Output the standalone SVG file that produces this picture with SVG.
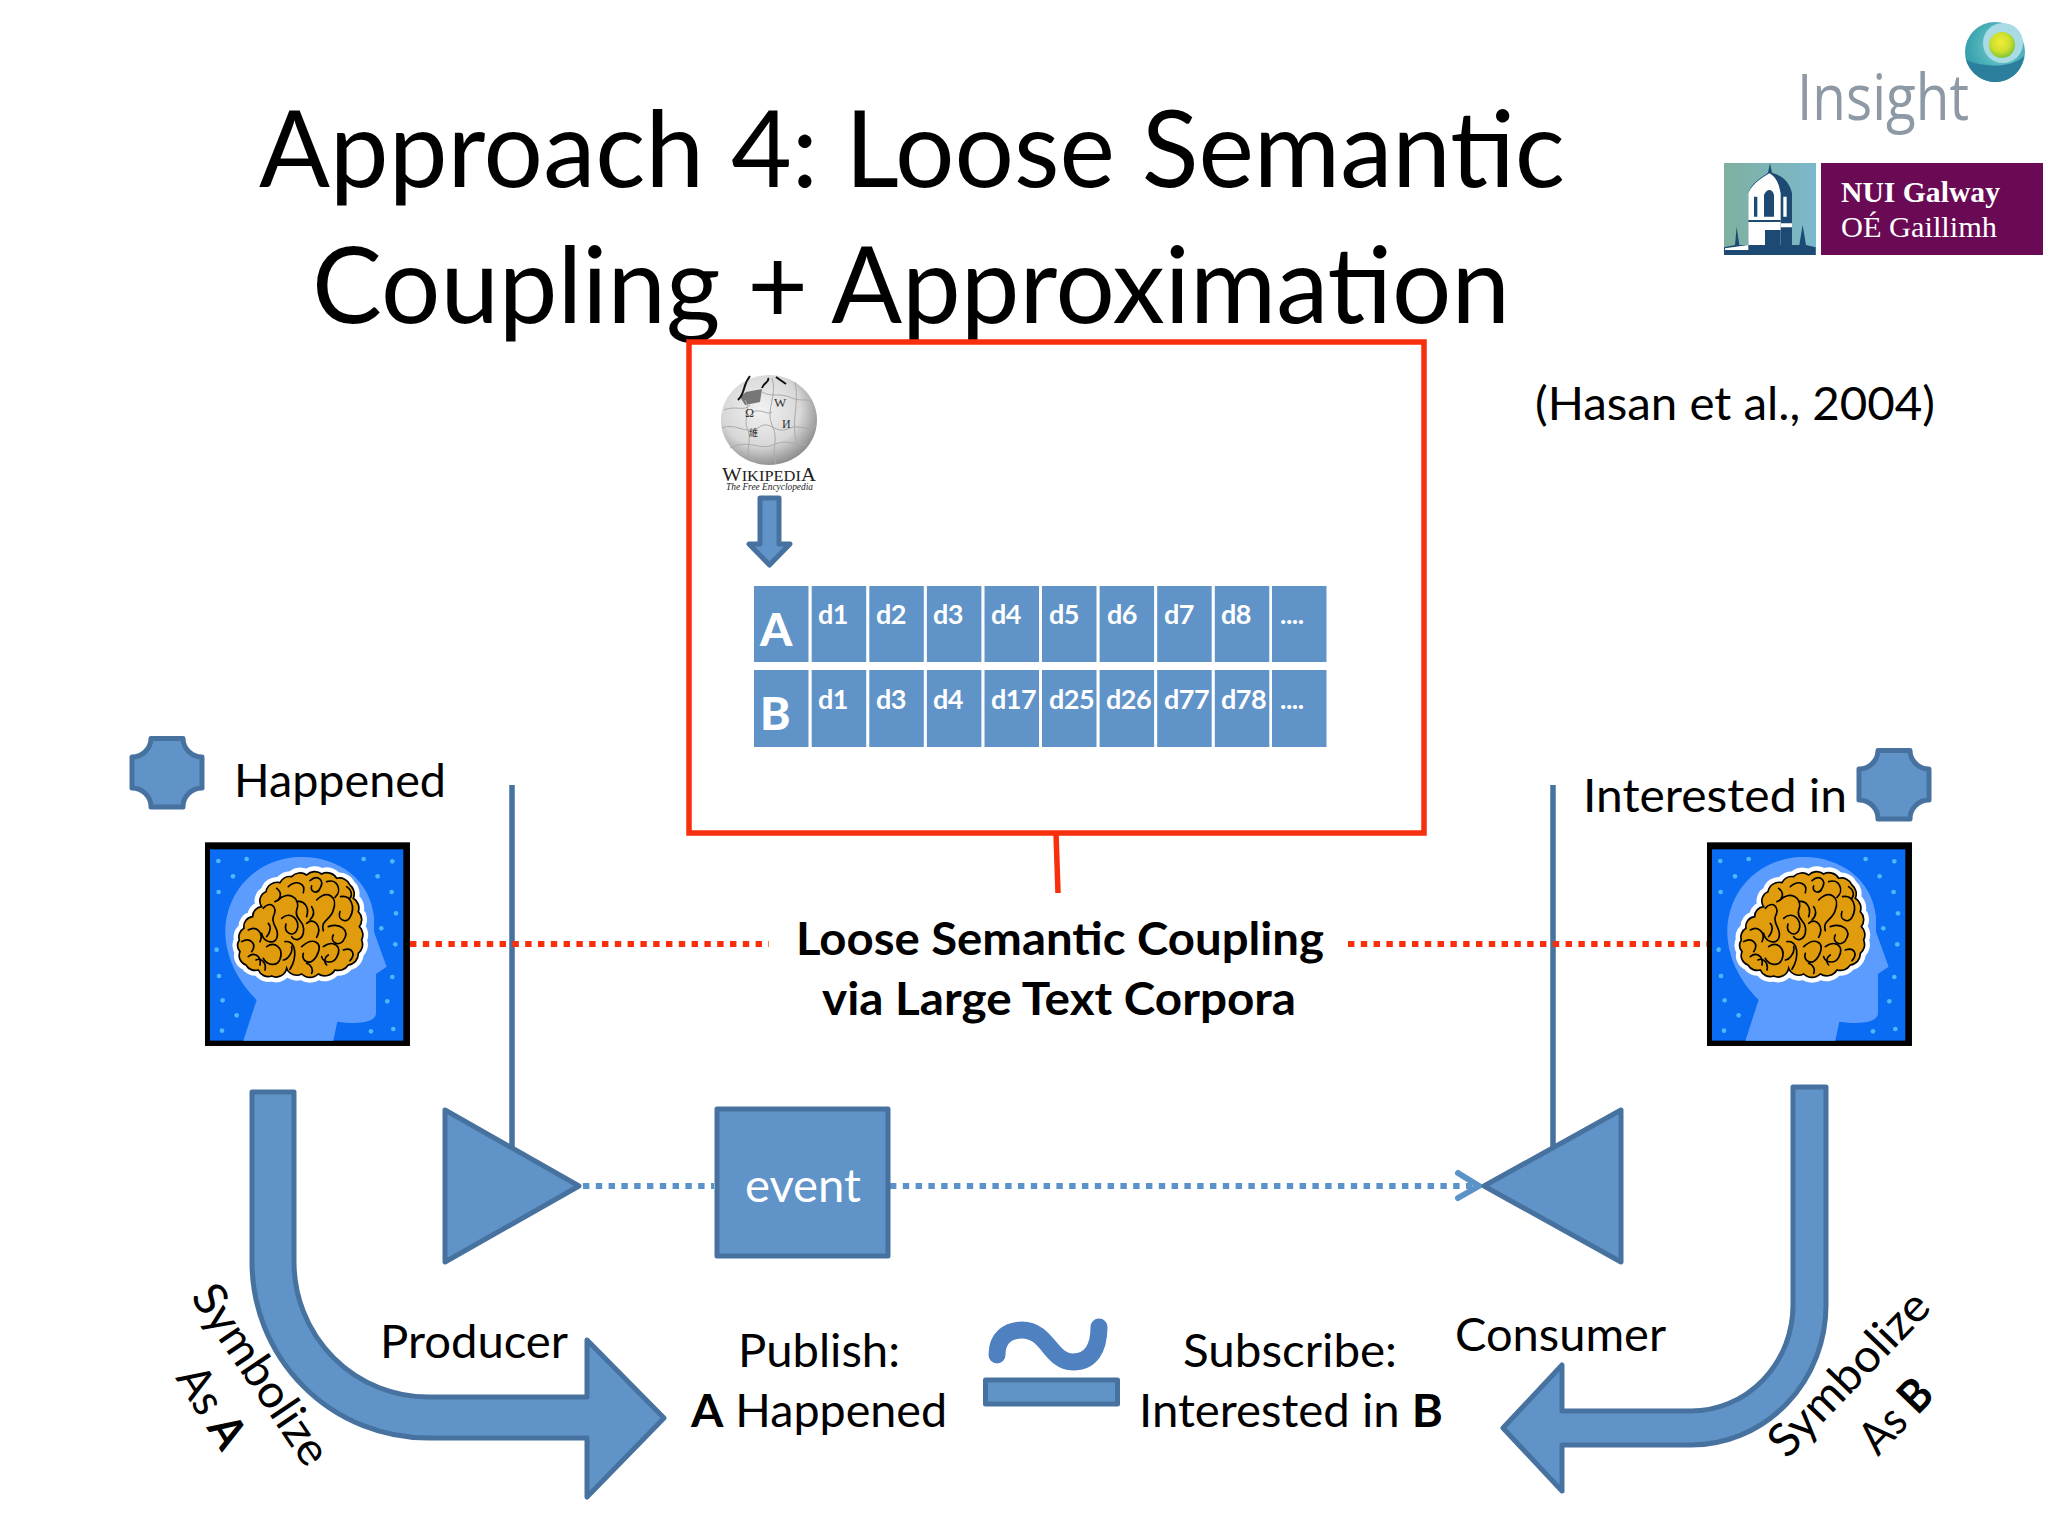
<svg xmlns="http://www.w3.org/2000/svg" width="2048" height="1536" viewBox="0 0 2048 1536">
<style>
text{font-family:"Lato","Carlito","Liberation Sans",sans-serif;fill:#000}
.t{font-size:106px}
.m{font-size:46px}
.b{font-weight:700}
.cell{fill:#6094c8}
.ct{font-size:27px;font-weight:700;fill:#fff;letter-spacing:-.5px}
.hd{font-size:46px;font-weight:900;fill:#fff}
.sh{fill:#6094c8;stroke:#47729f;stroke-width:5;stroke-linejoin:round}
.red{stroke:#f72f0c;fill:none}
.ser{font-family:"Liberation Serif",serif}
.gl{font-family:"Liberation Serif",serif;fill:#333}
</style>
<defs>
<radialGradient id="gl" cx="0.42" cy="0.38" r="0.68"><stop offset="0" stop-color="#f2f2f2"/><stop offset="0.6" stop-color="#d8d8d8"/><stop offset="1" stop-color="#808080"/></radialGradient>
<radialGradient id="ball" cx="0.6" cy="0.4" r="0.65"><stop offset="0" stop-color="#8ed6e2"/><stop offset="0.55" stop-color="#4fb3ba"/><stop offset="1" stop-color="#2f9aa8"/></radialGradient>
<radialGradient id="lime" cx="0.45" cy="0.4" r="0.6"><stop offset="0" stop-color="#f4ea3a"/><stop offset="0.6" stop-color="#cde02c"/><stop offset="1" stop-color="#7fc43a"/></radialGradient>
<linearGradient id="sky" x1="0" y1="0" x2="1" y2="0"><stop offset="0" stop-color="#7fb09f"/><stop offset="1" stop-color="#7ab8cc"/></linearGradient>
<path id="plaque" d="M151,738.500H183A19,19 0 0 0 202,757V788A19,19 0 0 0 183,807H151A19,19 0 0 0 132,788V757A19,19 0 0 0 151,738.500Z"/>
<path id="brainshape" d="M358,660A30,30 0 0 1 372,625A30,30 0 0 1 398,590A30,30 0 0 1 425,560A30,30 0 0 1 438,515A34,34 0 0 1 480,488A34,34 0 0 1 515,470A34,34 0 0 1 560,465A34,34 0 0 1 605,462A34,34 0 0 1 650,475A34,34 0 0 1 690,495A34,34 0 0 1 700,535A34,34 0 0 1 715,575A34,34 0 0 1 718,620A34,34 0 0 1 725,660A34,34 0 0 1 715,700A34,34 0 0 1 685,735A36,36 0 0 1 645,750A36,36 0 0 1 595,762A36,36 0 0 1 545,762A32,32 0 0 1 500,745A32,32 0 0 1 455,768A32,32 0 0 1 415,750A32,32 0 0 1 378,735A30,30 0 0 1 360,695A30,30 0 0 1 358,660Z"/>
<g id="headicon">
<rect x="255" y="367" width="615" height="611" fill="#000"/>
<rect x="270" y="388" width="580" height="574" fill="#0a6cf2"/>
<path d="M370,962L410,840C360,790 318,720 316,640C314,540 380,430 520,412C640,400 750,470 762,590L762,635L800,740L768,762V880C768,905 720,915 652,905L640,962Z" fill="#5c9cff"/>
<g fill="#4db8ff">
<circle cx="295" cy="423" r="7"/><circle cx="380" cy="417" r="7"/><circle cx="339" cy="469" r="7"/><circle cx="296" cy="516" r="7"/><circle cx="290" cy="689" r="7"/><circle cx="297" cy="768" r="7"/><circle cx="308" cy="841" r="7"/><circle cx="350" cy="886" r="7"/><circle cx="306" cy="932" r="7"/><circle cx="731" cy="417" r="7"/><circle cx="817" cy="424" r="7"/><circle cx="773" cy="469" r="7"/><circle cx="815" cy="516" r="7"/><circle cx="828" cy="580" r="7"/><circle cx="784" cy="625" r="7"/><circle cx="826" cy="673" r="7"/><circle cx="817" cy="771" r="7"/><circle cx="802" cy="844" r="7"/><circle cx="820" cy="927" r="7"/><circle cx="753" cy="934" r="7"/>
</g>
<use href="#brainshape" fill="#fff" stroke="#fff" stroke-width="32" stroke-linejoin="round"/>
<use href="#brainshape" fill="#e09c0c" stroke="#000" stroke-width="5"/>
<g fill="none" stroke="#000" stroke-width="5" stroke-linecap="round">
<path d="M385,630C410,615 432,640 420,665M365,665C390,650 412,672 395,695M385,710C402,695 425,708 420,735"/>
<path d="M430,565C450,540 475,560 460,590C452,615 482,628 470,655C460,675 430,665 425,640"/>
<path d="M475,540C500,512 545,530 530,570C522,600 558,602 550,640C545,660 525,665 515,650"/>
<path d="M505,500C530,478 558,490 550,518M570,482C592,462 615,480 600,505C592,525 568,515 575,498"/>
<path d="M620,485C652,474 668,512 645,532M590,540C622,508 655,530 640,570C632,602 600,600 610,632"/>
<path d="M662,530C692,524 708,560 690,592C680,612 650,600 660,575M680,500C695,510 698,525 690,535"/>
<path d="M485,595C510,570 545,600 530,632C520,652 490,640 498,612"/>
<path d="M560,610C582,590 608,620 590,652M625,620C660,608 692,630 670,662C655,682 628,665 640,645"/>
<path d="M440,680C465,662 492,685 480,718C470,742 440,735 430,715M408,720C425,712 440,730 435,750"/>
<path d="M495,665C530,660 532,712 510,748M545,680C578,650 612,665 590,708C570,742 542,722 550,700"/>
<path d="M610,680C642,658 668,680 650,712C640,732 610,730 605,710M670,690C697,680 708,702 690,722"/>
<path d="M470,505C490,520 480,540 465,545M530,545C550,540 570,560 560,590M575,560C585,575 580,590 570,600M445,610C455,620 450,640 440,650M515,680C520,700 500,720 490,720M620,735C610,725 615,710 625,705M560,730C575,735 580,750 575,760"/>
</g>
</g>
</defs>
<rect width="2048" height="1536" fill="#fff"/>

<g id="connectors">
<path d="M512,785V1147M1553,785V1147" fill="none" stroke="#47729f" stroke-width="5.500"/>
<path d="M410,944H769M1348,944H1707" class="red" stroke-width="6" stroke-dasharray="6.400 6.400"/>
<path d="M1056,833L1058,893" class="red" stroke-width="5.500"/>
<path d="M583,1186H714M890,1186H1478" fill="none" stroke="#5b93c8" stroke-width="6" stroke-dasharray="6.400 6.400"/>
<path d="M1458,1173L1479,1186L1458,1198" fill="none" stroke="#5b93c8" stroke-width="6" stroke-linecap="round"/>
</g>

<g id="title">
<text class="t" x="259" y="187" textLength="1306" lengthAdjust="spacingAndGlyphs">Approach 4: Loose Semantic</text>
<text class="t" x="312" y="323" textLength="1198" lengthAdjust="spacingAndGlyphs">Coupling + Approximation</text>
</g>

<g id="insight-logo">
<text x="1797" y="120" textLength="172" lengthAdjust="spacingAndGlyphs" style="font-family:'Open Sans',sans-serif;font-size:64px;font-weight:400;fill:#8e99a6">Insight</text>
<circle cx="1995" cy="52" r="30" fill="url(#ball)"/>
<path d="M1966,60C1980,66 2010,70 2024,56C2022,72 2010,82 1995,82C1982,82 1970,72 1966,60Z" fill="#2c7f9c"/>
<circle cx="2003" cy="43" r="20" fill="#a9dbe4"/>
<circle cx="2002" cy="45" r="13" fill="url(#lime)"/>
</g>
<g id="nui-logo">
<rect x="1724" y="163" width="92" height="92" fill="url(#sky)"/>
<g transform="translate(1680,0) scale(0.3333)">
<path d="M132,765V742L165,735L170,680L178,735H205V580C215,545 250,530 264,518L270,490L276,518C310,528 330,550 336,580V735H358L368,675L378,735L407,742V765Z" fill="#1d4a72"/>
<path d="M205,735V580C218,548 250,532 268,520C292,532 298,560 302,580V735Z" fill="#fff"/>
<path d="M222,590V650H232V590ZM252,650V585C260,565 278,565 282,585V650ZM205,660H302V666H205ZM255,690H302V735H255Z" fill="#1d4a72"/>
<path d="M310,590H320V650H310ZM302,670H336V682H302Z" fill="#fff"/>
<path d="M135,745L205,735V750H135Z" fill="#fff"/>
</g>
<rect x="1821" y="163" width="222" height="92" fill="#6a0a55"/>
<text class="ser" x="1841" y="202" textLength="159" lengthAdjust="spacingAndGlyphs" style="font-size:30px;font-weight:700;fill:#fff">NUI Galway</text>
<text class="ser" x="1841" y="237" textLength="156" lengthAdjust="spacingAndGlyphs" style="font-size:30px;fill:#fff">OÉ Gaillimh</text>
</g>

<g id="corpus-box">
<rect x="689" y="342" width="735" height="491" fill="none" class="red" stroke-width="5.500"/>
</g>

<g id="wikipedia">
<ellipse cx="769" cy="420" rx="48" ry="45" fill="url(#gl)"/>
<path d="M740,397L746,392L762,389L760,402L745,405Z" fill="#777"/>
<path d="M738,400C746,392 742,386 750,376M762,388C764,382 770,382 768,378M776,377L786,384" fill="none" stroke="#111" stroke-width="2"/>
<g fill="none" stroke="#aaa" stroke-width="1">
<path d="M724,410C735,405 745,412 750,405M722,428C735,422 745,435 758,428C770,418 775,436 790,428C800,424 806,432 816,426"/>
<path d="M730,448C750,438 760,452 775,444C790,438 800,448 806,444"/>
<path d="M745,400C752,412 742,420 748,430C752,442 745,450 750,460M772,378C778,395 765,410 772,425C780,440 770,450 776,464M795,382C800,405 790,420 797,445"/>
<path d="M762,392C772,398 780,392 792,398C802,402 808,398 812,402M752,412C762,408 768,416 772,412"/>
</g>
<text class="gl" x="745" y="417" style="font-size:12px">Ω</text>
<text class="gl" x="774" y="407" style="font-size:13px">W</text>
<text class="gl" x="782" y="428" style="font-size:12px">И</text>
<text x="749" y="436" style="font-size:9px;font-family:'Noto Sans CJK SC',sans-serif;fill:#333">維</text>
<text class="ser" x="722" y="481" textLength="94" lengthAdjust="spacingAndGlyphs" style="font-size:19px;fill:#222">W<tspan style="font-size:15px">IKIPEDI</tspan>A</text>
<text class="ser" x="726" y="490" textLength="87" lengthAdjust="spacingAndGlyphs" style="font-size:10px;font-style:italic;fill:#222">The Free Encyclopedia</text>
</g>
<g id="wiki-arrow">
<path d="M760,498H779V544H790L769.500,565L749,544H760Z" class="sh"/>
</g>

<g id="table">
<g id="row-a">
<rect class="cell" x="754" y="586" width="54.500" height="76"/><rect class="cell" x="811.700" y="586" width="54.500" height="76"/><rect class="cell" x="869.300" y="586" width="54.500" height="76"/><rect class="cell" x="926.900" y="586" width="54.500" height="76"/><rect class="cell" x="984.500" y="586" width="54.500" height="76"/><rect class="cell" x="1042" y="586" width="54.500" height="76"/><rect class="cell" x="1099.600" y="586" width="54.500" height="76"/><rect class="cell" x="1157.200" y="586" width="54.500" height="76"/><rect class="cell" x="1214.800" y="586" width="54.500" height="76"/><rect class="cell" x="1272" y="586" width="54.500" height="76"/>
<text class="hd" x="760" y="646">A</text>
<text class="ct" x="818" y="624">d1</text><text class="ct" x="876" y="624">d2</text><text class="ct" x="933" y="624">d3</text><text class="ct" x="991" y="624">d4</text><text class="ct" x="1049" y="624">d5</text><text class="ct" x="1107" y="624">d6</text><text class="ct" x="1164" y="624">d7</text><text class="ct" x="1221" y="624">d8</text><text class="ct" x="1280" y="624">....</text>
</g>
<g id="row-b">
<rect class="cell" x="754" y="670" width="54.500" height="77"/><rect class="cell" x="811.700" y="670" width="54.500" height="77"/><rect class="cell" x="869.300" y="670" width="54.500" height="77"/><rect class="cell" x="926.900" y="670" width="54.500" height="77"/><rect class="cell" x="984.500" y="670" width="54.500" height="77"/><rect class="cell" x="1042" y="670" width="54.500" height="77"/><rect class="cell" x="1099.600" y="670" width="54.500" height="77"/><rect class="cell" x="1157.200" y="670" width="54.500" height="77"/><rect class="cell" x="1214.800" y="670" width="54.500" height="77"/><rect class="cell" x="1272" y="670" width="54.500" height="77"/>
<text class="hd" x="760" y="730">B</text>
<text class="ct" x="818" y="709">d1</text><text class="ct" x="876" y="709">d3</text><text class="ct" x="933" y="709">d4</text><text class="ct" x="991" y="709">d17</text><text class="ct" x="1049" y="709">d25</text><text class="ct" x="1106" y="709">d26</text><text class="ct" x="1164" y="709">d77</text><text class="ct" x="1221" y="709">d78</text><text class="ct" x="1280" y="709">....</text>
</g>
</g>

<g id="citation"><text class="m" x="1535" y="420" textLength="400" lengthAdjust="spacingAndGlyphs">(Hasan et al., 2004)</text></g>

<g id="happened">
<use href="#plaque" class="sh"/>
<text class="m" x="234" y="797" textLength="212" lengthAdjust="spacingAndGlyphs">Happened</text>
</g>
<g id="interested">
<use href="#plaque" class="sh" transform="translate(1727,12)"/>
<text class="m" x="1583" y="812" textLength="264" lengthAdjust="spacingAndGlyphs">Interested in</text>
</g>

<g id="head-left"><use href="#headicon" transform="translate(120,720) scale(0.3333)"/></g>
<g id="head-right"><use href="#headicon" transform="translate(1622,720) scale(0.3333)"/></g>

<g id="coupling-label">
<text class="m b" x="796" y="955" textLength="528" lengthAdjust="spacingAndGlyphs">Loose Semantic Coupling</text>
<text class="m b" x="822" y="1015" textLength="474" lengthAdjust="spacingAndGlyphs">via Large Text Corpora</text>
</g>

<g id="producer">
<path class="sh" d="M445,1110L579,1186L445,1262Z"/>
<text class="m" x="380" y="1358" textLength="188" lengthAdjust="spacingAndGlyphs">Producer</text>
</g>
<g id="event">
<rect class="sh" x="717" y="1109" width="171" height="147"/>
<text class="m" x="745" y="1202" textLength="116" lengthAdjust="spacingAndGlyphs" style="fill:#fff">event</text>
</g>
<g id="consumer">
<path class="sh" d="M1621,1110L1484,1186L1621,1262Z"/>
<text class="m" x="1455" y="1351" textLength="211" lengthAdjust="spacingAndGlyphs">Consumer</text>
</g>

<g id="arrow-a">
<path class="sh" d="M252,1092H294V1262A134,135 0 0 0 428,1397H587V1340L664,1418L587,1497V1438H428A176,176 0 0 1 252,1262Z"/>
<text class="m" transform="translate(190,1297) rotate(56)" textLength="208" lengthAdjust="spacingAndGlyphs">Symbolize</text>
<text class="m" transform="translate(175,1378) rotate(58)" textLength="88" lengthAdjust="spacingAndGlyphs">As <tspan class="b">A</tspan></text>
</g>
<g id="arrow-b">
<path class="sh" d="M1793,1087H1826V1305A135,140 0 0 1 1691,1445H1562V1491L1503,1428L1562,1365V1411H1691A102,106 0 0 0 1793,1305Z"/>
<text class="m" transform="translate(1787,1460) rotate(-46)" textLength="210" lengthAdjust="spacingAndGlyphs">Symbolize</text>
<text class="m" transform="translate(1878,1457) rotate(-46)" textLength="84" lengthAdjust="spacingAndGlyphs">As <tspan class="b">B</tspan></text>
</g>

<g id="publish">
<text class="m" x="738" y="1367" textLength="162" lengthAdjust="spacingAndGlyphs">Publish:</text>
<text class="m" x="691" y="1427" textLength="256" lengthAdjust="spacingAndGlyphs"><tspan class="b">A</tspan> Happened</text>
</g>
<g id="approx-symbol">
<path d="M997,1355C997,1338 1008,1330 1022,1330C1048,1330 1050,1362 1073,1362C1090,1362 1099,1350 1099,1327" fill="none" stroke="#4f80bf" stroke-width="17" stroke-linecap="round"/>
<rect class="sh" x="985.500" y="1380" width="132" height="24"/>
</g>
<g id="subscribe">
<text class="m" x="1183" y="1367" textLength="214" lengthAdjust="spacingAndGlyphs">Subscribe:</text>
<text class="m" x="1139" y="1427" textLength="304" lengthAdjust="spacingAndGlyphs">Interested in <tspan class="b">B</tspan></text>
</g>
</svg>
